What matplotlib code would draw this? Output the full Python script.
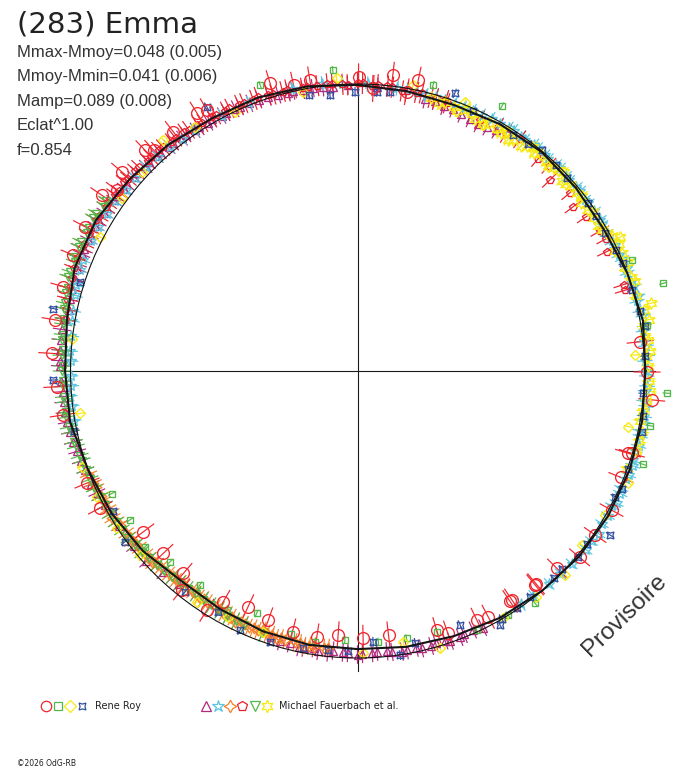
import numpy as np
import matplotlib
matplotlib.use("Agg")
import matplotlib.pyplot as plt
from matplotlib.patches import Circle

# ---- fitted light curve (relative flux vs rotational phase angle, deg)
fit_ang = list(range(0, 360, 10))
fit_flux = [1.003, 1.010, 1.000, 0.990, 0.993, 0.997, 0.993, 0.986, 0.990, 0.997,
            1.007, 1.014, 1.016, 1.028, 1.038, 1.052, 1.049, 1.028, 1.019, 1.017,
            1.000, 0.990, 0.976, 0.955, 0.958, 0.965, 0.969, 0.969, 0.976, 0.983,
            0.993, 1.000, 1.007, 1.009, 1.009, 1.007]

# ---- Rene Roy
roy_circ_ang = [5.9, 354.4, 359.8, 343.1, 338, 343.3, 331.3, 325.4, 320, 315.3, 309.7, 303.5,
                310, 304, 298, 295.6, 289, 287, 276.7, 271.2, 265.8, 261.3, 256, 250.3, 245.1,
                239.8, 237.8, 231.2, 229.3, 223.2, 216.9, 208, 202.5, 188.5, 183, 176.7, 170.4,
                164, 157.8, 152.1, 145.5, 143.1, 139.8, 133.9, 132.7, 127.6, 121.9, 120, 106.9,
                102.6, 99.3, 89.8, 86.8, 83.2, 78.2, 80]
roy_circ_flux = [0.990, 1.030, 1.009, 0.985, 0.990, 0.998, 1.009, 1.006, 1.010, 0.977, 0.969, 0.963,
                 0.968, 0.962, 0.970, 0.962, 0.967, 0.944, 0.926, 0.932, 0.922, 0.937, 0.936, 0.922, 0.905,
                 0.930, 0.985, 0.978, 0.930, 0.928, 0.933, 1.016, 1.020, 1.037, 1.049, 1.067, 1.069,
                 1.066, 1.070, 1.074, 1.082, 1.049, 1.076, 1.068, 1.048, 1.052, 1.058, 1.050, 1.048,
                 1.021, 1.028, 1.025, 0.986, 1.038, 1.036, 0.988]

roy_sq_ang = [355.9, 9, 349.4, 341.9, 61.4, 22, 16, 94.7, 108.8, 75.2, 206.5, 213.2, 219.6,
              225.5, 233.6, 241.3, 247.4, 255.9, 261.1, 267.3, 274.4, 280.4, 286.9, 294.7, 307.4, 301.7]
roy_sq_flux = [1.080, 1.020, 1.037, 1.045, 1.051, 1.031, 1.108, 1.052, 1.053, 1.031, 0.957, 0.948, 0.961,
               0.932, 0.926, 0.949, 0.915, 0.944, 0.955, 0.938, 0.946, 0.947, 0.949, 0.993, 1.019, 0.999]

roy_dia_ang = [3.3, 348.4, 188.7, 173.7, 199.1, 205.7, 213.2, 220.2, 235.1, 242.3, 250.1, 271.2,
               279.6, 286.6, 308.4, 322.2, 329.8, 337.5, 315.5, 300.5, 94.1, 79, 101, 68.2, 62.9,
               115.3, 123.6, 130, 137.3, 143.8, 152.5]
roy_dia_flux = [0.969, 0.962, 0.978, 1.002, 1.017, 1.009, 1.002, 0.993, 0.980, 0.967, 0.966, 0.984,
                0.956, 1.008, 1.004, 0.989, 0.998, 1.022, 1.014, 1.000, 1.022, 1.015, 0.991, 1.010, 0.963,
                0.999, 1.022, 1.052, 1.024, 1.018, 1.012]

roy_astr_ang = ([95.7, 90.5, 83.4, 70.7, 56.6, 50.2, 42.6, 36, 29.1, 22.1, 16.5, 8.8, 355.5, 347.9,
                 340.2, 334, 327, 319.9, 313.4, 307.4, 300.2, 299.3, 292, 278.5, 273.3, 258.9, 252.1,
                 245.6, 216.3, 209.9, 168.4, 181.7, 162.2, 119.7]
                + [25, 33, 46, 53, 12, 3, 351, 336, 323, 316, 304, 264, 268, 282, 240, 232, 86, 100,
                   192, 66])
roy_astr_flux = ([0.967, 0.973, 0.980, 1.025, 0.985, 1.002, 0.991, 0.994, 0.987, 0.999, 0.996, 1.014,
                  0.999, 1.013, 1.003, 0.998, 1.049, 1.005, 0.994, 0.990, 0.998, 1.015, 0.954, 1.001,
                  0.945, 0.985, 0.991, 0.991, 1.005, 0.982, 1.082, 1.060, 1.016, 1.060]
                 + [0.995, 0.990, 0.996, 0.990, 1.008, 1.004, 1.006, 1.008, 1.000, 0.992, 0.994, 0.978,
                    0.975, 0.968, 0.970, 0.975, 0.975, 0.978, 1.010, 0.990])

# ---- Michael Fauerbach et al.
fau_tri_ang = ([97, 101, 104, 108, 112, 115, 118, 121, 124, 127, 130, 133, 136, 139, 142, 145, 148,
                151, 154, 157, 160, 164, 168, 172, 176, 179, 182, 186, 190, 194, 198, 203, 208, 213,
                62, 64, 66, 68, 72, 76, 222, 226, 230, 252, 256, 259, 262, 265, 268, 271, 274, 277,
                280, 283, 286, 289, 292, 296]
               + [99, 103, 106, 110, 114, 117, 120, 123, 126, 129, 132, 135, 138, 141, 144, 147, 150,
                  153, 156, 159, 162, 166, 170, 174, 178, 184, 188, 192, 196, 200, 205, 254, 258, 261,
                  264, 267, 270, 273, 276, 279, 282, 285, 288, 291, 294, 60, 70, 74, 86, 92, 95, 218])
fau_tri_flux = ([0.996, 0.998, 1.000, 1.004, 1.006, 1.008, 1.008, 1.010, 1.012, 1.016, 1.020, 1.024,
                 1.026, 1.030, 1.032, 1.036, 1.040, 1.044, 1.043, 1.044, 1.040, 1.034, 1.028, 1.040,
                 1.038, 1.036, 1.032, 1.030, 1.028, 1.022, 1.014, 1.008, 0.998, 0.990,
                 0.962, 0.958, 0.962, 0.966, 0.970, 0.975, 0.990, 0.975, 0.968, 0.975, 0.978, 0.982,
                 0.985, 0.978, 0.983, 0.986, 0.980, 0.986, 0.988, 0.992, 0.986, 0.995, 0.990, 0.995]
                + [0.998, 1.002, 1.002, 1.006, 1.008, 1.010, 1.012, 1.012, 1.018, 1.022, 1.026, 1.028,
                   1.032, 1.034, 1.038, 1.040, 1.042, 1.046, 1.042, 1.042, 1.036, 1.034, 1.036, 1.040,
                   1.036, 1.030, 1.030, 1.024, 1.016, 1.010, 1.002, 0.980, 0.984, 0.978, 0.986, 0.982,
                   0.988, 0.984, 0.982, 0.990, 0.986, 0.992, 0.988, 0.994, 0.988, 0.968, 0.972, 0.978,
                   0.992, 0.996, 0.994, 0.990])

fau_star_ang = ([330, 333, 336, 339, 342, 345, 348, 351, 354, 357, 0, 3, 6, 9, 12, 15, 18, 21, 24, 27,
                 318, 322, 326, 328, 31, 34, 37, 40, 43, 46, 49, 52, 55, 58, 62, 66, 70, 74, 78, 82,
                 88, 93, 97, 103, 112, 118, 124, 130, 136, 142, 148, 154, 158, 163, 168, 173, 178,
                 183, 187]
                + [332, 335, 338, 341, 344, 347, 350, 353, 356, 359, 2, 5, 8, 11, 14, 17, 20, 23, 26,
                   29, 32, 36, 39, 42, 45, 48, 51, 54, 57, 60, 64, 68, 72, 76, 80, 315, 312, 308, 305,
                   324, 127, 133, 139, 145, 151, 160, 165, 170, 176, 181, 185, 190])
fau_star_flux = ([1.008, 1.013, 1.006, 1.012, 1.009, 1.014, 1.006, 1.012, 1.004, 1.010, 1.005, 1.011,
                  1.003, 1.012, 1.007, 1.011, 1.002, 1.004, 0.996, 0.994, 1.004, 1.011, 1.014, 1.004,
                  0.992, 0.995, 0.991, 0.996, 0.994, 0.998, 0.995, 1.000, 0.996, 0.997, 0.995, 0.992,
                  0.990, 0.993, 0.992, 0.996, 1.000, 1.003, 1.008, 1.010, 1.006, 1.008, 1.012, 1.018,
                  1.024, 1.022, 1.030, 1.034, 1.030, 1.024, 1.012, 1.004, 1.000, 0.998, 1.003]
                 + [1.004, 1.010, 1.008, 1.014, 1.006, 1.011, 1.009, 1.013, 1.006, 1.008, 1.002, 1.009,
                    1.006, 1.014, 1.004, 1.008, 1.000, 1.002, 0.998, 0.992, 0.996, 0.993, 0.997, 0.992,
                    0.999, 0.993, 0.998, 0.994, 0.999, 0.993, 0.990, 0.988, 0.992, 0.990, 0.994, 1.000,
                    0.998, 0.996, 0.993, 1.008, 1.014, 1.020, 1.026, 1.030, 1.034, 1.028, 1.018, 1.010,
                    1.004, 1.000, 1.006, 1.004])

fau_cross_ang = ([203, 206, 209, 212, 215, 218, 221, 224, 227, 230, 233, 236, 239, 242, 245, 248, 251,
                  254, 257, 260, 263, 211, 217, 223, 229, 235, 241, 247, 253, 259]
                 + [201, 204, 207, 210, 213, 216, 219, 222, 225, 228, 231, 234, 237, 240, 243, 246,
                    249, 252, 255, 258, 261, 264, 244, 250])
fau_cross_flux = ([1.000, 0.996, 0.993, 0.990, 0.984, 0.980, 0.976, 0.970, 0.965, 0.960, 0.958, 0.958,
                   0.960, 0.960, 0.964, 0.966, 0.966, 0.968, 0.970, 0.972, 0.972, 0.996, 0.986, 0.978,
                   0.966, 0.962, 0.964, 0.970, 0.972, 0.976]
                  + [1.004, 0.998, 0.996, 0.990, 0.988, 0.984, 0.978, 0.974, 0.968, 0.963, 0.960, 0.958,
                     0.960, 0.958, 0.962, 0.966, 0.968, 0.966, 0.970, 0.970, 0.972, 0.970, 0.972, 0.962])

fau_pent_ang = ([100, 104, 107, 110, 113, 116, 119, 122, 125, 128, 131, 134, 137, 140, 143, 146, 149,
                 152, 155, 158, 162, 166, 170, 72, 75, 77, 80, 83, 86, 89, 92, 95, 98, 44.8, 37.3,
                 49.6, 25.6, 16.8, 71.6, 30, 55, 40, 60]
                + [101, 105, 108, 111, 114, 117, 120, 123, 126, 129, 132, 135, 138, 141, 144, 147, 150,
                   153, 156, 160, 164, 168, 74, 78, 81, 84, 87, 90, 93, 96, 18, 28, 34, 47, 58, 64])
fau_pent_flux = ([1.006, 1.010, 1.008, 1.016, 1.014, 1.018, 1.020, 1.020, 1.026, 1.030, 1.032, 1.036,
                  1.040, 1.042, 1.040, 1.048, 1.050, 1.054, 1.050, 1.054, 1.046, 1.042, 1.034, 0.992,
                  0.986, 0.994, 0.990, 0.996, 1.000, 1.002, 0.998, 1.004, 1.004, 0.944, 0.945, 0.972,
                  0.963, 0.974, 0.983, 0.975, 0.985, 0.965, 0.980]
                 + [1.004, 1.008, 1.012, 1.012, 1.016, 1.016, 1.022, 1.024, 1.028, 1.028, 1.036, 1.034,
                    1.042, 1.046, 1.044, 1.046, 1.052, 1.050, 1.056, 1.050, 1.044, 1.038, 0.988, 0.992,
                    0.988, 0.998, 0.996, 1.004, 1.000, 1.006, 0.975, 0.980, 0.960, 0.978, 0.975, 0.972])

fau_vtri_ang = ([146, 149, 152, 155, 158, 161, 164, 167, 170, 173, 176, 179, 182, 185, 188, 191, 194,
                 197, 200, 204, 208, 212, 216, 220, 224, 228, 232, 236, 240, 244]
                + [147, 150, 153, 156, 159, 162, 165, 168, 171, 174, 177, 180, 183, 186, 189, 192, 195,
                   198, 202, 206, 210, 214, 218, 222, 226, 230, 234, 238, 242, 246, 250])
fau_vtri_flux = ([1.058, 1.062, 1.060, 1.064, 1.060, 1.058, 1.050, 1.046, 1.040, 1.034, 1.030, 1.028,
                  1.026, 1.026, 1.026, 1.024, 1.018, 1.012, 1.008, 1.004, 0.998, 0.994, 0.988, 0.982,
                  0.972, 0.965, 0.962, 0.962, 0.964, 0.968]
                 + [1.052, 1.064, 1.058, 1.062, 1.056, 1.060, 1.052, 1.044, 1.038, 1.036, 1.032, 1.030,
                    1.028, 1.024, 1.028, 1.020, 1.016, 1.010, 1.006, 1.000, 0.996, 0.990, 0.984, 0.976,
                    0.970, 0.964, 0.960, 0.962, 0.966, 0.970, 0.972])

fau_hex_ang = ([18, 21, 24, 27, 30, 33, 35, 39, 42, 45, 48, 51, 54, 57, 60, 63, 66, 69, 72, 12, 15, 9,
                6, 3, 358, 354, 350, 346, 28, 44, 52, 75, 13]
               + [19, 22, 25, 26, 29, 31, 34, 37, 38, 41, 43, 46, 47, 50, 53, 56, 58, 59, 62, 65, 67,
                  70, 73, 10, 7, 4, 1, 356, 352, 348, 344, 340])
fau_hex_flux = ([1.015, 1.000, 1.010, 1.025, 0.985, 0.982, 0.979, 0.983, 0.976, 0.990, 0.982, 0.976,
                 0.970, 0.960, 0.975, 0.966, 0.980, 0.972, 0.985, 1.020, 1.005, 1.012, 1.018, 1.008,
                 1.015, 1.010, 1.000, 1.012, 1.005, 0.998, 0.992, 0.985, 1.050]
                + [1.008, 1.018, 0.990, 1.012, 0.995, 0.980, 0.990, 0.975, 0.992, 0.985, 0.972, 0.985,
                   0.975, 0.988, 0.980, 0.970, 0.985, 0.968, 0.978, 0.970, 0.988, 0.980, 0.975, 1.030,
                   1.008, 1.020, 1.012, 1.020, 1.005, 1.015, 1.008, 1.000])

# series table: data, marker, colour, marker size (pt), radial error (flux)
series = [
    (fau_tri_ang, fau_tri_flux, '^', '#b02a7e', 5.5, 0.030),
    (fau_star_ang, fau_star_flux, '*', '#5cc6e0', 8.0, 0.025),
    (fau_cross_ang, fau_cross_flux, (4, 1, 0), '#f5822a', 8.0, 0.030),
    (fau_pent_ang, fau_pent_flux, 'p', '#e8202e', 6.0, 0.035),
    (fau_vtri_ang, fau_vtri_flux, 'v', '#52b848', 6.0, 0.030),
    (fau_hex_ang, fau_hex_flux, (6, 1, 0), '#f7ea10', 8.5, 0.022),
    (roy_sq_ang, roy_sq_flux, 's', '#52b848', 5.0, 0.012),
    (roy_dia_ang, roy_dia_flux, 'D', '#f7ea10', 5.5, 0.012),
    (roy_astr_ang, roy_astr_flux, (4, 1, 45), '#3250a0', 7.0, 0.015),
    (roy_circ_ang, roy_circ_flux, 'o', '#f0262e', 8.5, 0.045),
]

fig = plt.figure(figsize=(6.88, 7.68), dpi=100, facecolor='white')
ax = fig.add_axes([0, 0, 1, 1])
cx, cy, scale = 357.5, 371.0, 287.0
ax.set_xlim(-cx / scale, (688 - cx) / scale)
ax.set_ylim(-(768 - cy) / scale, cy / scale)
ax.axis('off')

# axes cross and reference circle
ax.plot([-1.037, 1.037], [0, 0], color='#1a1a1a', lw=0.8, zorder=1)
ax.plot([0, 0], [-1.045, 1.045], color='#1a1a1a', lw=0.8, zorder=1)
ax.add_patch(Circle((0, 0), 1.0, fill=False, lw=0.8, ec='#111111', zorder=5))

for ang, flux, mk, col, ms, err in series:
    a = np.radians(ang)
    f = np.asarray(flux)
    nan = np.full_like(a, np.nan)
    xs = np.column_stack([(f - err) * np.cos(a), (f + err) * np.cos(a), nan]).ravel()
    ys = np.column_stack([(f - err) * np.sin(a), (f + err) * np.sin(a), nan]).ravel()
    ax.plot(xs, ys, color=col, lw=0.85, zorder=2)
    ax.plot(f * np.cos(a), f * np.sin(a), ls='none', marker=mk, ms=ms,
            mfc='none', mec=col, mew=0.95, zorder=3)

fa = np.radians(fit_ang + fit_ang[:1])
ff = np.asarray(fit_flux + fit_flux[:1])
ax.plot(ff * np.cos(fa), ff * np.sin(fa), color='#151515', lw=1.5, zorder=6)

# texts
def px(x, y):
    return x / 688, 1 - y / 768

fig.text(*px(17, 33), "(283) Emma", fontsize=21, family='DejaVu Sans', color='#222222',
         va='baseline')
stats = ["Mmax-Mmoy=0.048 (0.005)", "Mmoy-Mmin=0.041 (0.006)", "Mamp=0.089 (0.008)",
         "Eclat^1.00", "f=0.854"]
for i, s in enumerate(stats):
    fig.text(*px(17, 56.5 + 24.6 * i), s, fontsize=12, family='Liberation Sans',
             color='#333333', va='baseline')

fig.text(*px(625, 615), "Provisoire", fontsize=17.5, family='Liberation Sans', color='#333333',
         rotation=44, ha='center', va='center')

# legend
lax = fig.add_axes([0, 0, 1, 1])
lax.set_xlim(0, 688)
lax.set_ylim(768, 0)
lax.axis('off')
leg_roy = [('o', '#f0262e', 7.5, 45.7), ('s', '#52b848', 5.5, 57.7),
           ('D', '#f7ea10', 6.0, 69.7), ((4, 1, 45), '#3250a0', 7.0, 82)]
leg_fau = [('^', '#b02a7e', 7.0, 205.7), ('*', '#5cc6e0', 9.0, 218.3),
           ((4, 1, 0), '#f5822a', 9.0, 229.7), ('p', '#e8202e', 7.5, 242.3),
           ('v', '#52b848', 7.0, 255), ((6, 1, 0), '#f7ea10', 9.0, 267)]
for mk, col, ms, x in leg_roy + leg_fau:
    lax.plot([x], [706], ls='none', marker=mk, ms=ms, mfc='none', mec=col, mew=0.9)
lax.text(95, 706, "Rene Roy", fontsize=7, family='DejaVu Sans', color='#222222', va='center')
lax.text(279, 706, "Michael Fauerbach et al.", fontsize=7, family='DejaVu Sans',
         color='#222222', va='center')
lax.text(17, 763, "\u00a92026 OdG-RB", fontsize=5.5, family='DejaVu Sans', color='#222222',
         va='center')

fig.savefig("out.png", dpi=100, facecolor='white')
